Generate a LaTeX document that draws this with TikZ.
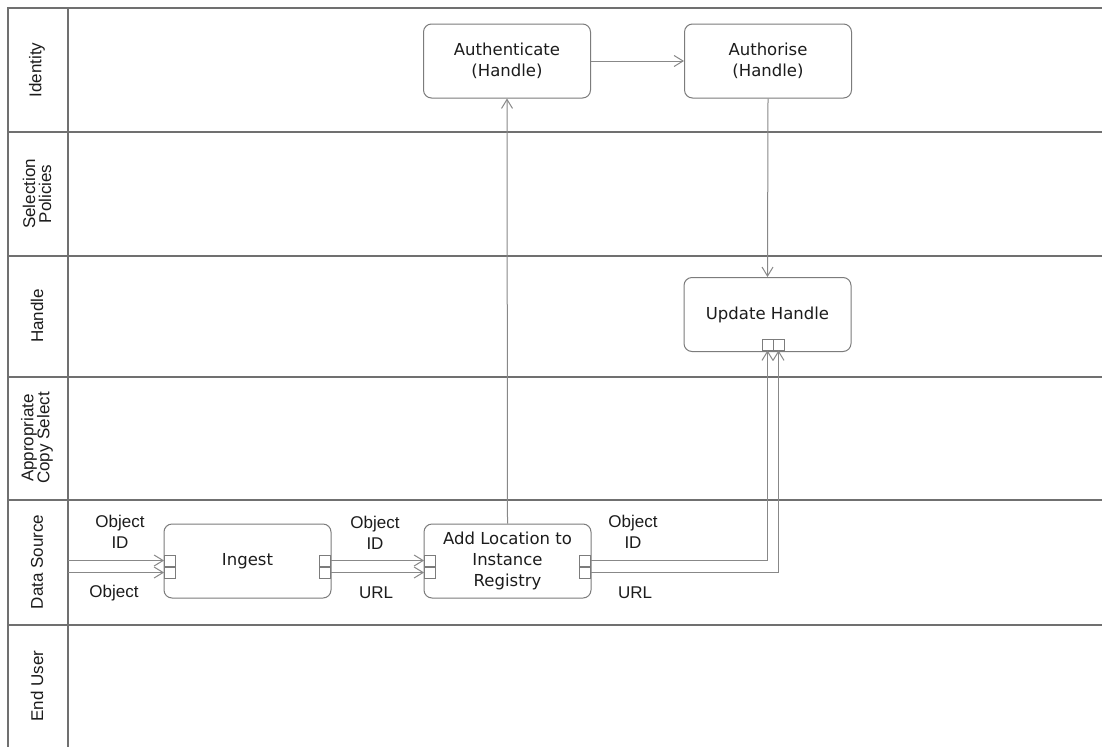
\documentclass[tikz,border=0pt]{standalone}
\usepackage{fontspec}
\setmainfont{Liberation Sans}
\newfontfamily\boxfont{DejaVu Sans}
\usetikzlibrary{arrows.meta}
\definecolor{lanegray}{HTML}{707070}
\definecolor{boxgray}{HTML}{7C7C7C}
\definecolor{flowgray}{HTML}{888888}
\definecolor{ink}{HTML}{1C1C1C}
\begin{document}
\begin{tikzpicture}[x=1pt,y=-1pt,
  lane/.style={draw=lanegray,line width=1.3pt},
  proc/.style={draw=boxgray,line width=1pt,rounded corners=8pt,
    minimum width=167pt,minimum height=74pt,align=center,inner sep=0pt,
    text=ink,font=\boxfont\fontsize{16.5}{21}\selectfont},
  port/.style={draw=boxgray,line width=0.9pt,fill=white,minimum size=11pt,inner sep=0pt},
  flow/.style={draw=flowgray,line width=1pt,-{Straight Barb[length=9pt,width=11pt]}},
  lbl/.style={align=center,inner sep=0pt,text=ink,font=\fontsize{17}{21}\selectfont},
  lanelbl/.style={rotate=90,align=center,inner sep=0pt,text=ink,font=\fontsize{17}{16}\selectfont}]

\useasboundingbox (0,0) rectangle (1102,747);
\fill[white] (0,0) rectangle (1102,747);

% swimlane grid
\draw[lane] (1102,8) -- (8,8) -- (8,747);
\draw[lane] (68,8) -- (68,747);
\foreach \yy in {132,256,377,500,625}
  \draw[lane] (8,\yy) -- (1102,\yy);

% lane titles
\node[lanelbl] (lnIdentity) at (37,70) {Identity};
\node[lanelbl] (lnSelection) at (37,194) {Selection\\Policies};
\node[lanelbl] (lnHandle) at (37,316) {Handle};
\node[lanelbl] (lnCopy) at (37,438) {Appropriate\\Copy Select};
\node[lanelbl] (lnData) at (37,562) {Data Source};
\node[lanelbl] (lnUser) at (37,686) {End User};

% activities
\node[proc] (auth) at (507,61) {Authenticate\\(Handle)};
\node[proc] (authz) at (768,61) {Authorise\\(Handle)};
\node[proc] (upd) at (767.5,314.5) {Update Handle};
\node[proc] (ingest) at (247.5,561) {Ingest};
\node[proc] (addloc) at (507.5,561) {Add Location to\\Instance\\Registry};

% pins
\node[port] (iL1) at (170,560.5) {};
\node[port] (iL2) at (170,572.5) {};
\node[port] (iR1) at (325,560.5) {};
\node[port] (iR2) at (325,572.5) {};
\node[port] (aL1) at (430,560.5) {};
\node[port] (aL2) at (430,572.5) {};
\node[port] (aR1) at (585,560.5) {};
\node[port] (aR2) at (585,572.5) {};
\node[port] (u1) at (767.5,344.5) {};
\node[port] (u2) at (778.5,344.5) {};

% incoming flows from the lane edge
\coordinate (in1) at (68,560.5);
\coordinate (in2) at (68,572.5);
\draw[flow] (in1) -- (iL1.west);
\draw[flow] (in2) -- (iL2.west);

% object flows
\draw[flow] (iR1.east) -- (aL1.west);
\draw[flow] (iR2.east) -- (aL2.west);
\draw[flow] (aR1.east) -| (u1.south);
\draw[flow] (aR2.east) -| (u2.south);

% control flows
\draw[flow] (addloc.north) -- (auth.south);
\draw[flow] (auth.east) -- (authz.west);
\draw[flow] (authz.south) -- (upd.north);

% flow labels
\node[lbl] (tObjId1) at (120,532) {Object\\ID};
\node[lbl] (tObj) at (114,593) {Object};
\node[lbl] (tObjId2) at (375,533) {Object\\ID};
\node[lbl] (tUrl1) at (376,593) {URL};
\node[lbl] (tObjId3) at (633,532) {Object\\ID};
\node[lbl] (tUrl2) at (635,593) {URL};
\end{tikzpicture}
\end{document}
